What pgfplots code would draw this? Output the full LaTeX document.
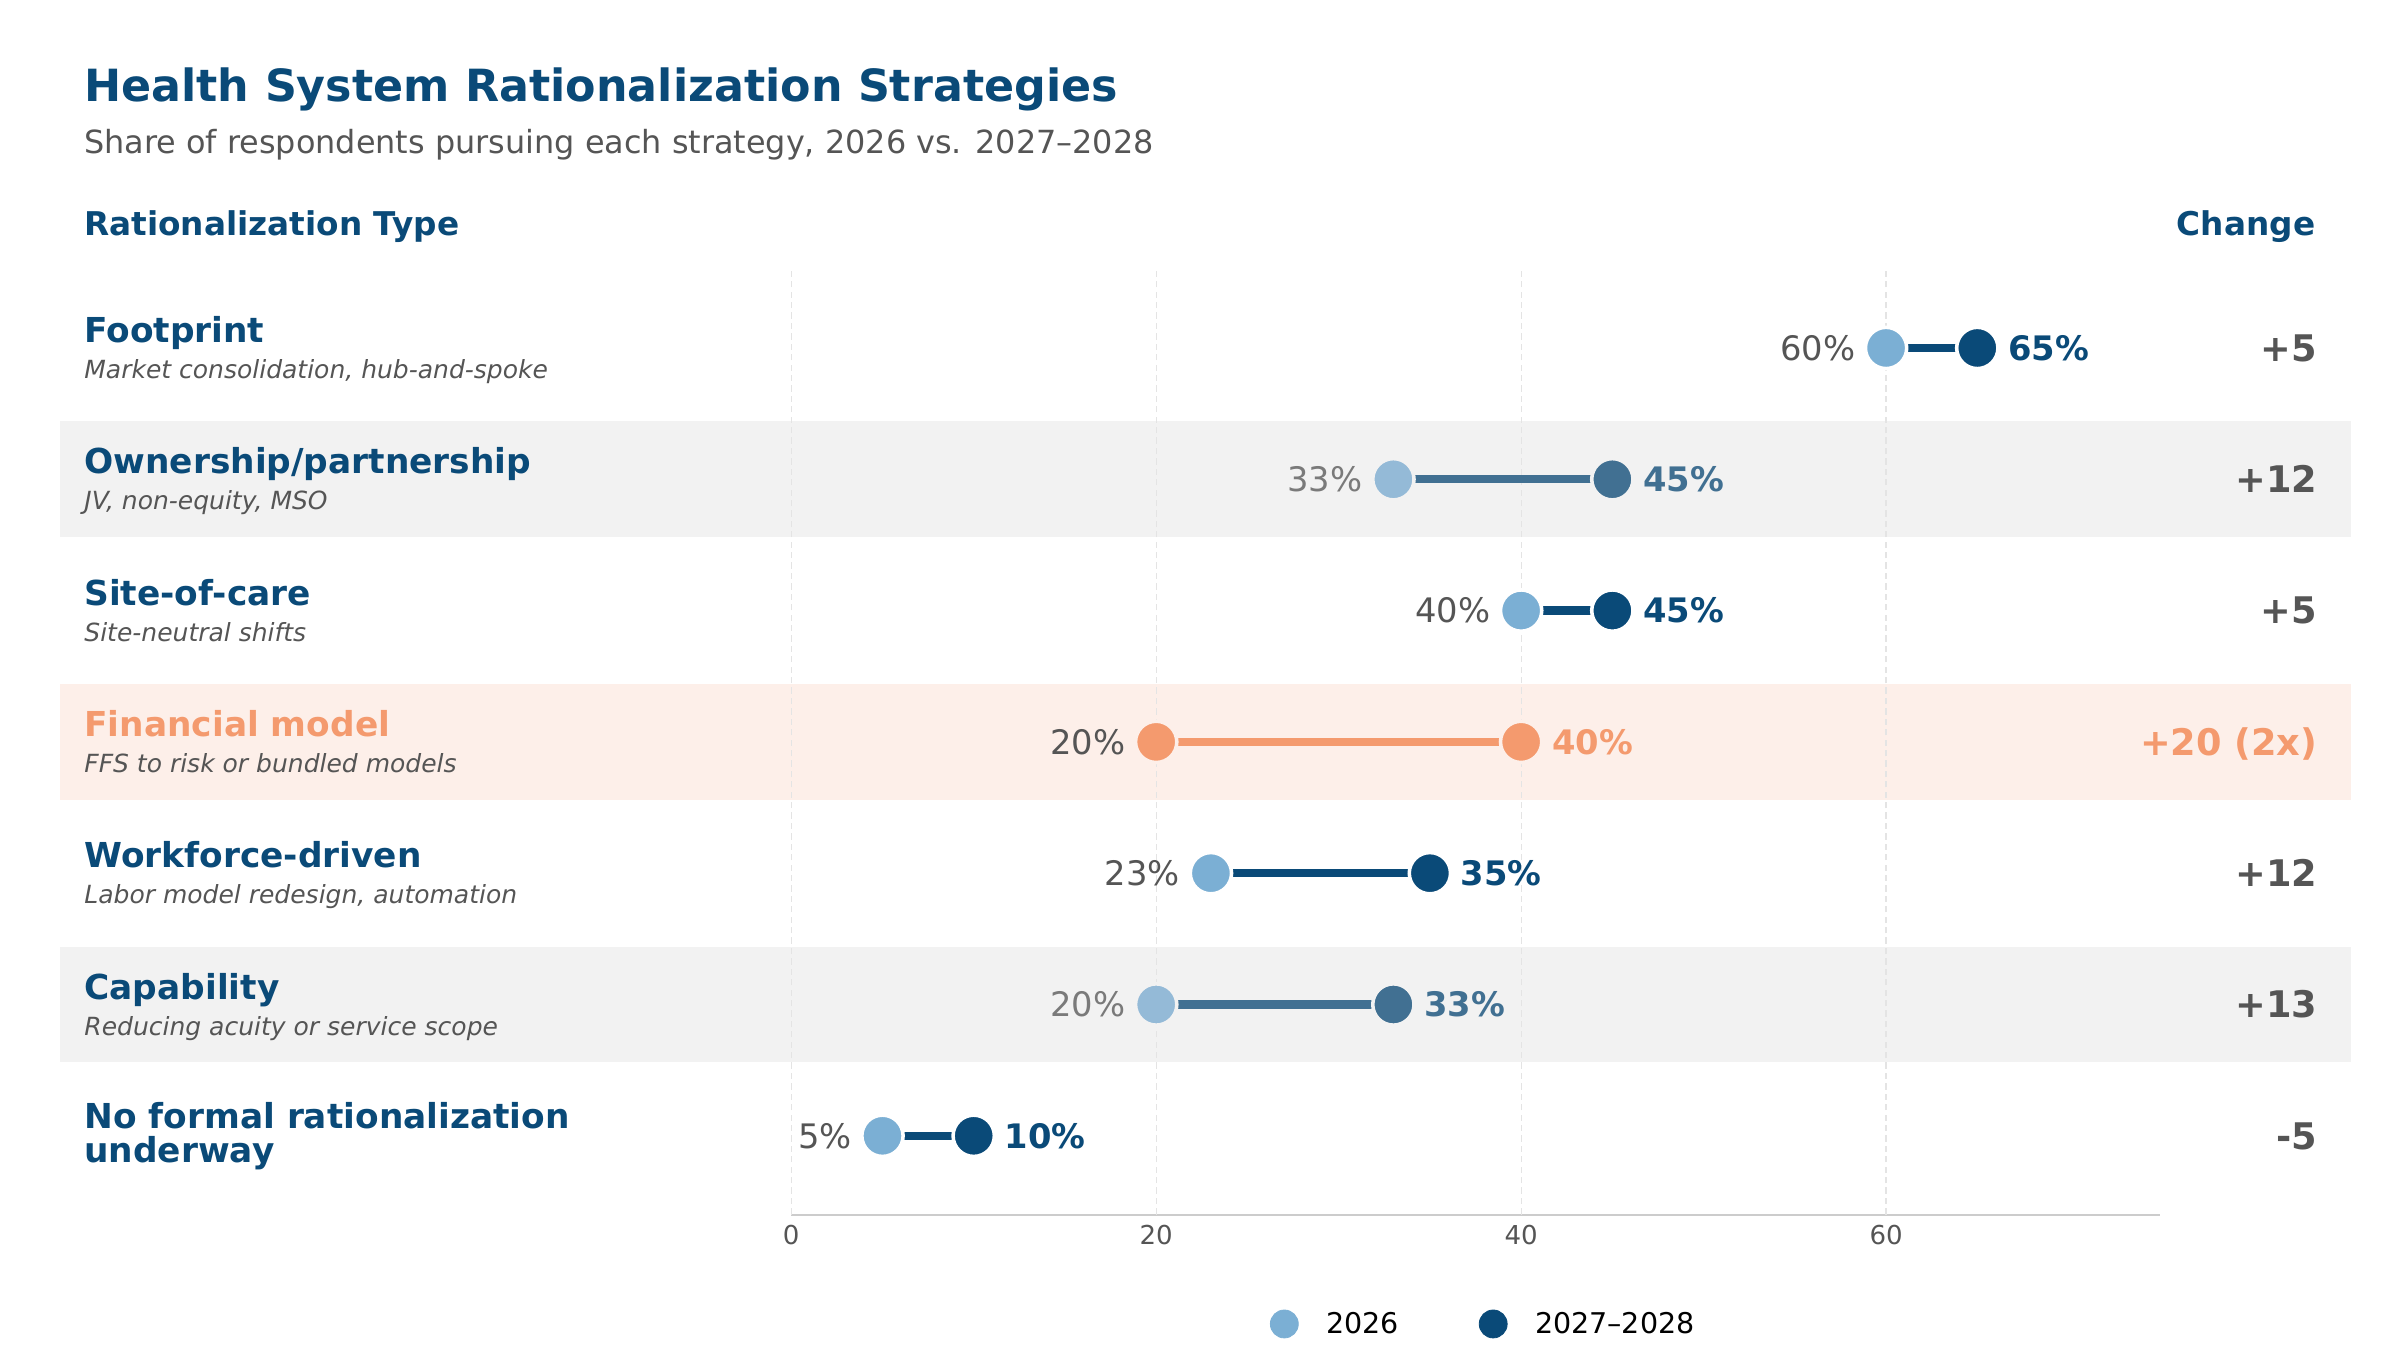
\documentclass[border=0pt]{standalone}
\usepackage{fontspec}
\setmainfont{DejaVu Sans}
\usepackage{pgfplots}
\pgfplotsset{compat=1.18}

\definecolor{navy}{HTML}{0A4A78}
\definecolor{lightblue}{HTML}{7BAFD4}
\definecolor{mutednavy}{HTML}{417092}
\definecolor{mutedlight}{HTML}{94BAD7}
\definecolor{accent}{HTML}{F49A6E}
\definecolor{accentband}{HTML}{FDEFE9}
\definecolor{band}{HTML}{F2F2F2}
\definecolor{textgray}{HTML}{555555}
\definecolor{mutedgray}{HTML}{7A7A7A}
\definecolor{gridgray}{HTML}{E4E4E4}
\definecolor{axisgray}{HTML}{CCCCCC}

\newcommand{\titlefont}{\fontsize{21.3}{25}\selectfont\bfseries}
\newcommand{\subfont}{\fontsize{15.3}{18}\selectfont}
\newcommand{\headfont}{\fontsize{15.7}{18}\selectfont\bfseries}
\newcommand{\namefont}{\fontsize{16.5}{16.8}\selectfont\bfseries}
\newcommand{\descfont}{\fontsize{12}{14.4}\selectfont\itshape}
\newcommand{\valfont}{\fontsize{16.2}{19}\selectfont}
\newcommand{\changefont}{\fontsize{17.6}{20}\selectfont\bfseries}
\newcommand{\tickfont}{\fontsize{12.5}{14}\selectfont}
\newcommand{\legendfont}{\fontsize{13.7}{16}\selectfont}

\tikzset{
  rowname/.style={anchor=base west, inner sep=0pt, font=\namefont, text=navy},
  rowdesc/.style={anchor=base west, inner sep=0pt, font=\descfont, text=textgray},
  changelbl/.style={anchor=base east, inner sep=0pt, font=\changefont, text=textgray, yshift=-6.4pt},
}

% one row: y, 2026 value, 2027-2028 value, line colour,
% 2026 dot colour, 2027-2028 dot colour, 2026 label colour,
% 2027-2028 label colour, row background (used as the dot rim)
\newcommand{\dumbbell}[9]{%
  \addplot[forget plot, mark=none, line width=4pt, draw=#4] coordinates {(#2,#1) (#3,#1)};
  \addplot[forget plot, only marks, mark=*, mark size=9.9pt,
    mark options={fill=#5, draw=#9, line width=1.7pt},
    point meta=x, nodes near coords={\pgfmathprintnumber{\pgfplotspointmeta}\%},
    every node near coord/.append style={anchor=east, xshift=-14pt, inner sep=0pt, font=\valfont, text=#7}]
    coordinates {(#2,#1)};
  \addplot[forget plot, only marks, mark=*, mark size=9.9pt,
    mark options={fill=#6, draw=#9, line width=1.7pt},
    point meta=x, nodes near coords={\pgfmathprintnumber{\pgfplotspointmeta}\%},
    every node near coord/.append style={anchor=west, xshift=14pt, inner sep=0pt, font=\valfont\bfseries, text=#8}]
    coordinates {(#3,#1)};
}

\begin{document}
\begin{tikzpicture}
\begin{axis}[
  at={(379.8pt,65.0pt)}, anchor=south west,
  scale only axis, width=656.9pt, height=453.8pt,
  xmin=0, xmax=75, ymin=-0.6, ymax=6.6,
  enlargelimits=false, clip=false,
  axis x line*=bottom, axis y line=none,
  x axis line style={draw=axisgray, line width=1pt, -},
  xtick={0,20,40,60}, ytick=\empty, major tick length=0pt,
  /pgf/number format/assume math mode=true,
  xticklabel style={font=\tickfont, text=textgray, inner sep=0pt, yshift=-4.8pt},
  legend columns=2,
  legend cell align=left,
  legend style={draw=none, fill=none, inner sep=0pt, outer sep=0pt,
    at={(0.3498,-0.1157)}, anchor=west, font=\legendfont,
    nodes={inner sep=0pt},
    /tikz/every odd column/.append style={column sep=13.2pt},
    /tikz/every even column/.append style={column sep=38.4pt}},
]
% row bands
\fill[band] (axis cs:-40.07,4.56) rectangle (axis cs:85.47,5.44);
\fill[accentband] (axis cs:-40.07,2.56) rectangle (axis cs:85.47,3.44);
\fill[band] (axis cs:-40.07,0.56) rectangle (axis cs:85.47,1.44);

% vertical guides
\pgfplotsinvokeforeach{0,20,40,60}{
  \draw[gridgray, line width=0.6pt, dash pattern=on 3pt off 2pt] (axis cs:#1,-0.6) -- (axis cs:#1,6.6);
}

% dumbbells
\dumbbell{6}{60}{65}{navy}{lightblue}{navy}{textgray}{navy}{white}
\dumbbell{5}{33}{45}{mutednavy}{mutedlight}{mutednavy}{mutedgray}{mutednavy}{band}
\dumbbell{4}{40}{45}{navy}{lightblue}{navy}{textgray}{navy}{white}
\dumbbell{3}{20}{40}{accent}{accent}{accent}{textgray}{accent}{accentband}
\dumbbell{2}{23}{35}{navy}{lightblue}{navy}{textgray}{navy}{white}
\dumbbell{1}{20}{33}{mutednavy}{mutedlight}{mutednavy}{mutedgray}{mutednavy}{band}
\dumbbell{0}{5}{10}{navy}{lightblue}{navy}{textgray}{navy}{white}

% legend
\addlegendimage{legend image code/.code={\fill[lightblue] (0pt,0pt) circle[radius=6.7pt];}}
\addlegendentry{2026}
\addlegendimage{legend image code/.code={\fill[navy] (0pt,0pt) circle[radius=6.7pt];}}
\addlegendentry{2027–2028}

% row names and descriptions
\node[rowname, yshift=2.6pt] at (axis cs:-38.76,6) {Footprint};
\node[rowdesc, yshift=-14.7pt] at (axis cs:-38.76,6) {Market consolidation, hub-and-spoke};
\node[rowname, yshift=2.6pt] at (axis cs:-38.76,5) {Ownership/partnership};
\node[rowdesc, yshift=-14.7pt] at (axis cs:-38.76,5) {JV, non-equity, MSO};
\node[rowname, yshift=2.6pt] at (axis cs:-38.76,4) {Site-of-care};
\node[rowdesc, yshift=-14.7pt] at (axis cs:-38.76,4) {Site-neutral shifts};
\node[rowname, text=accent, yshift=2.6pt] at (axis cs:-38.76,3) {Financial model};
\node[rowdesc, yshift=-14.7pt] at (axis cs:-38.76,3) {FFS to risk or bundled models};
\node[rowname, yshift=2.6pt] at (axis cs:-38.76,2) {Workforce-driven};
\node[rowdesc, yshift=-14.7pt] at (axis cs:-38.76,2) {Labor model redesign, automation};
\node[rowname, yshift=2.6pt] at (axis cs:-38.76,1) {Capability};
\node[rowdesc, yshift=-14.7pt] at (axis cs:-38.76,1) {Reducing acuity or service scope};
\node[rowname, yshift=3.7pt] at (axis cs:-38.76,0) {No formal rationalization};
\node[rowname, yshift=-13.0pt] at (axis cs:-38.76,0) {underway};

% change column
\node[changelbl] at (axis cs:83.65,6) {+5};
\node[changelbl] at (axis cs:83.65,5) {+12};
\node[changelbl] at (axis cs:83.65,4) {+5};
\node[changelbl, text=accent] at (axis cs:83.65,3) {+20 (2x)};
\node[changelbl] at (axis cs:83.65,2) {+12};
\node[changelbl] at (axis cs:83.65,1) {+13};
\node[changelbl] at (axis cs:83.65,0) {-5};
\end{axis}

% titles and column headers
\node[anchor=base west, inner sep=0pt, font=\titlefont, text=navy] at (40.3pt,599.5pt) {Health System Rationalization Strategies};
\node[anchor=base west, inner sep=0pt, font=\subfont, text=textgray] at (40.3pt,574.4pt) {Share of respondents pursuing each strategy, 2026 vs. 2027–2028};
\node[anchor=base west, inner sep=0pt, font=\headfont, text=navy] at (40.3pt,535.0pt) {Rationalization Type};
\node[anchor=base east, inner sep=0pt, font=\headfont, text=navy] at (1111.5pt,535.0pt) {Change};

\pgfresetboundingbox
\path[use as bounding box] (0pt,0pt) rectangle (1152pt,648pt);
\end{tikzpicture}
\end{document}
